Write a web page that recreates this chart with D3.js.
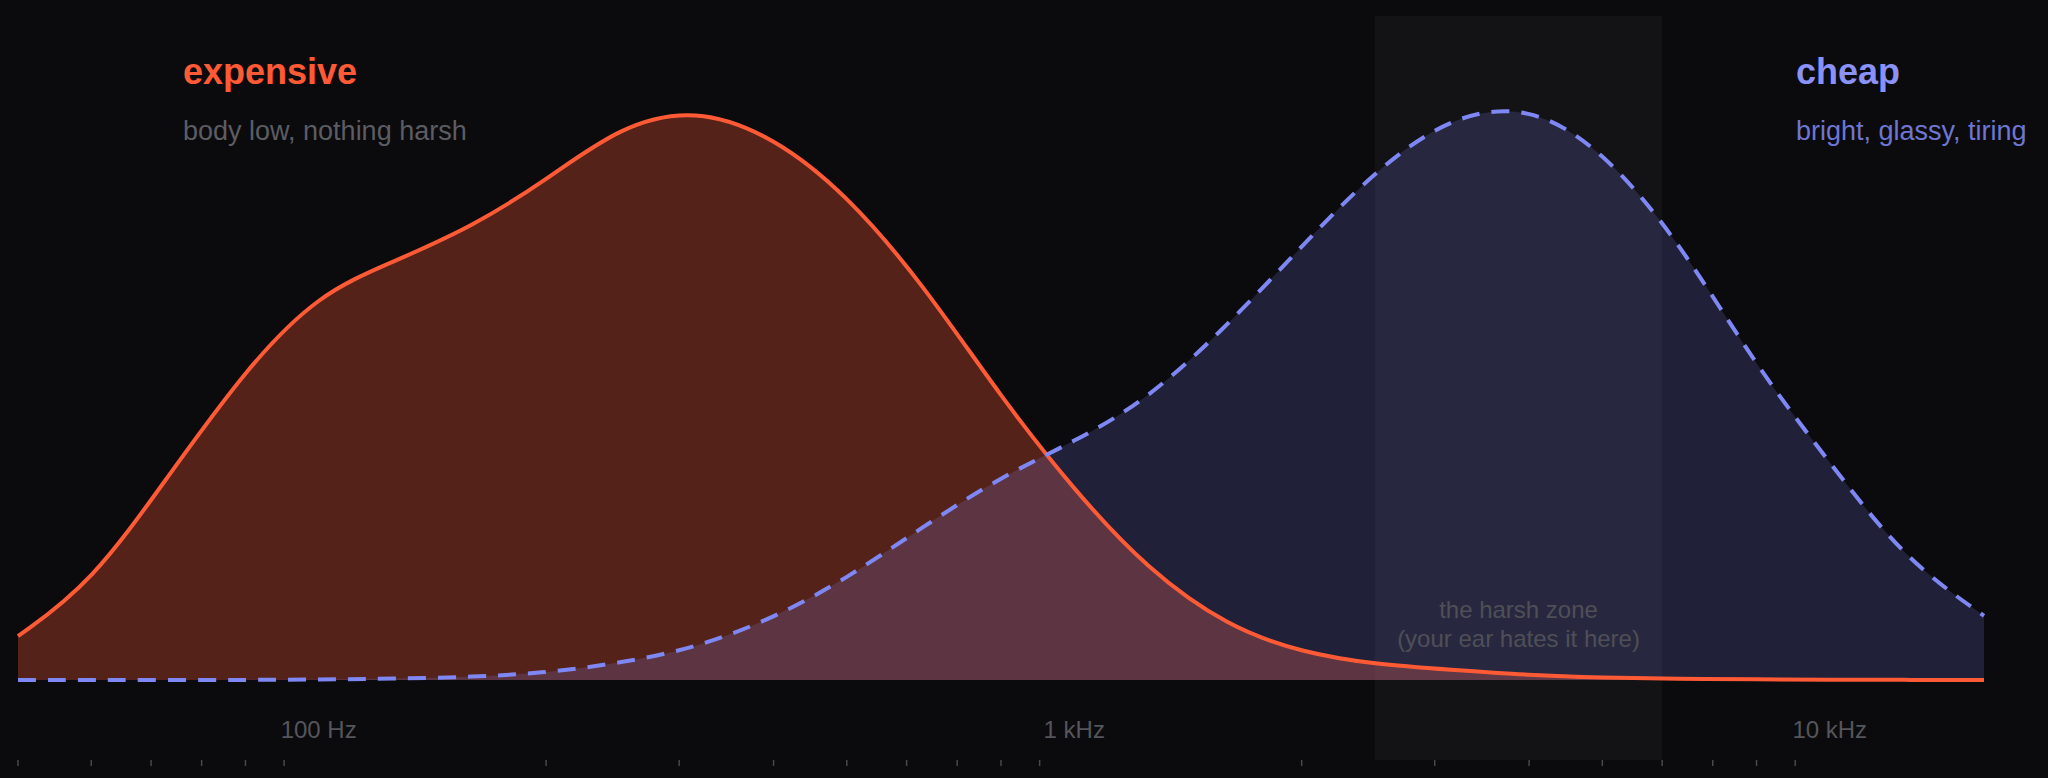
<!DOCTYPE html>
<html lang="en">
<head>
  <meta charset="UTF-8">
  <title>expensive vs cheap</title>
  <style>
    body {
      margin: 0;
      background-color: #0b0b0d;
      overflow: hidden;
    }
    svg {
      display: block;
      font-family: "Liberation Sans", Arial, Helvetica, sans-serif;
    }
    .title { font-size: 36px; font-weight: bold; }
    .sub { font-size: 27px; }
    .freq-label { font-size: 24px; fill: #55555b; }
    .zone-label { font-size: 24px; fill: #4f4f57; }
    .tick { stroke: #48484d; stroke-width: 1.5px; }
  </style>
</head>
<body>
  <svg></svg>

  <script src="https://d3js.org/d3.v7.min.js"></script>
  <script>
    // 1/3-octave band centres (Hz)
    const freqs = [40, 50, 63, 80, 100, 125, 160, 200, 250, 315, 400, 500, 630, 800,
                   1000, 1250, 1600, 2000, 2500, 3150, 4000, 5000, 6300, 8000, 10000, 12500, 16000];

    // relative energy per band (control points for a B-spline)
    const expensive = [0.073, 0.161, 0.337, 0.518, 0.644, 0.696, 0.756, 0.833, 0.923, 0.954,
                       0.906, 0.809, 0.661, 0.471, 0.316, 0.184, 0.088, 0.046, 0.026, 0.017,
                       0.008, 0.004, 0.002, 0.001, 0.0005, 0.0002, 0];
    const cheap = [0, 0, 0, 0, 0.001, 0.002, 0.005, 0.012, 0.028, 0.053,
                   0.103, 0.169, 0.255, 0.339, 0.397, 0.467, 0.592, 0.723, 0.849, 0.941,
                   0.959, 0.884, 0.734, 0.521, 0.363, 0.203, 0.107];

    const decadeLabels = [100, 1000, 10000];
    const harshZone = [2500, 6000];

    const width = 2048;
    const height = 778;
    const margin = { left: 18, right: 64, top: 80, bottom: 98 };

    const colExp = "#ff5a36";
    const colCheap = "#7f87f4";

    const svg = d3.select("svg")
      .attr("width", width)
      .attr("height", height);

    const x = d3.scaleLog()
      .domain([freqs[0], freqs[freqs.length - 1]])
      .range([margin.left, width - margin.right]);

    const y = d3.scaleLinear()
      .domain([0, 1])
      .range([height - margin.bottom, margin.top]);

    const expData = freqs.map((f, i) => ({ f, v: expensive[i] }));
    const cheapData = freqs.map((f, i) => ({ f, v: cheap[i] }));

    // harsh zone band (sits behind everything)
    svg.append("rect")
      .attr("x", x(harshZone[0]))
      .attr("y", 16)
      .attr("width", x(harshZone[1]) - x(harshZone[0]))
      .attr("height", 744)
      .attr("fill", "#ffffff")
      .attr("fill-opacity", 0.035);

    const curve = d3.curveBasis;

    const area = d3.area()
      .x(d => x(d.f))
      .y0(y(0))
      .y1(d => y(d.v))
      .curve(curve);

    const line = d3.line()
      .x(d => x(d.f))
      .y(d => y(d.v))
      .curve(curve);

    svg.append("path")
      .datum(expData)
      .attr("d", area)
      .attr("fill", colExp)
      .attr("fill-opacity", 0.3);

    svg.append("path")
      .datum(cheapData)
      .attr("d", area)
      .attr("fill", colCheap)
      .attr("fill-opacity", 0.19);

    svg.append("path")
      .datum(expData)
      .attr("d", line)
      .attr("fill", "none")
      .attr("stroke", colExp)
      .attr("stroke-width", 4);

    svg.append("path")
      .datum(cheapData)
      .attr("d", line)
      .attr("fill", "none")
      .attr("stroke", colCheap)
      .attr("stroke-width", 4)
      .attr("stroke-dasharray", "18 12");

    // zone note
    const zx = (x(harshZone[0]) + x(harshZone[1])) / 2;
    svg.append("text")
      .attr("class", "zone-label")
      .attr("x", zx).attr("y", 618)
      .attr("text-anchor", "middle")
      .text("the harsh zone");
    svg.append("text")
      .attr("class", "zone-label")
      .attr("x", zx).attr("y", 647)
      .attr("text-anchor", "middle")
      .text("(your ear hates it here)");

    // frequency labels at decades
    const fmt = f => f >= 1000 ? (f / 1000) + " kHz" : f + " Hz";
    svg.selectAll(".freq-label")
      .data(decadeLabels)
      .join("text")
      .attr("class", "freq-label")
      .attr("x", d => x(d))
      .attr("y", 738)
      .attr("text-anchor", "middle")
      .text(fmt);

    // minor ticks (skip the decades, which carry labels)
    const minor = x.ticks().filter(t => decadeLabels.indexOf(t) < 0);
    svg.selectAll(".tick")
      .data(minor)
      .join("line")
      .attr("class", "tick")
      .attr("x1", d => x(d)).attr("x2", d => x(d))
      .attr("y1", 760).attr("y2", 766);

    // legend titles
    svg.append("text")
      .attr("class", "title")
      .attr("x", 183).attr("y", 84)
      .attr("fill", colExp)
      .text("expensive");
    svg.append("text")
      .attr("class", "sub")
      .attr("x", 183).attr("y", 140)
      .attr("fill", "#5c5c63")
      .text("body low, nothing harsh");

    svg.append("text")
      .attr("class", "title")
      .attr("x", 1796).attr("y", 84)
      .attr("fill", "#8a91f7")
      .text("cheap");
    svg.append("text")
      .attr("class", "sub")
      .attr("x", 1796).attr("y", 140)
      .attr("fill", "#6f76d2")
      .text("bright, glassy, tiring");
  </script>
</body>
</html>
